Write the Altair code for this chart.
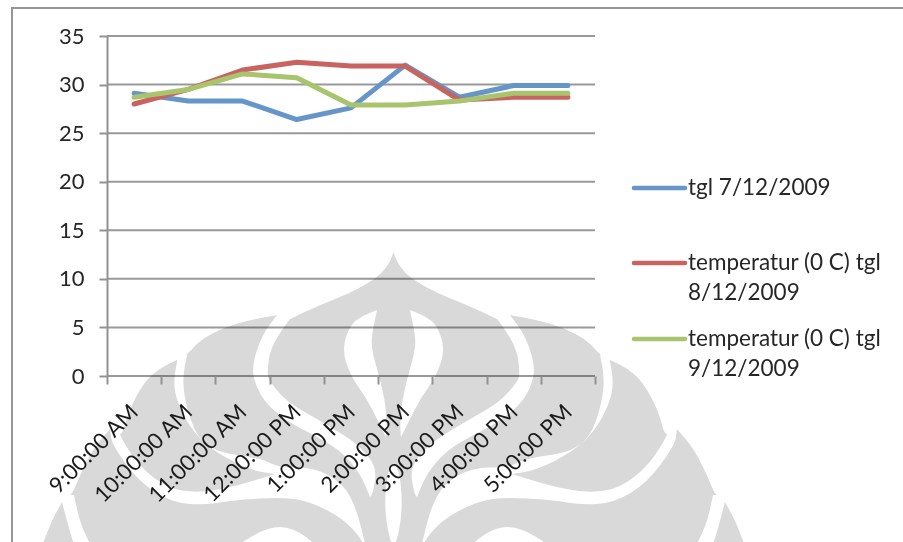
import altair as alt
import pandas as pd

hours = ["9:00:00 AM", "10:00:00 AM", "11:00:00 AM", "12:00:00 PM", "1:00:00 PM",
         "2:00:00 PM", "3:00:00 PM", "4:00:00 PM", "5:00:00 PM"]
series_names = ["tgl 7/12/2009", "temperatur (0 C) tgl 8/12/2009", "temperatur (0 C) tgl 9/12/2009"]
day_7 = [29.1, 28.3, 28.3, 26.4, 27.6, 32.0, 28.7, 29.9, 29.9]
day_8 = [28.0, 29.5, 31.5, 32.3, 31.9, 31.9, 28.4, 28.7, 28.7]
day_9 = [28.7, 29.5, 31.1, 30.7, 27.9, 27.9, 28.3, 29.1, 29.1]
y_ticks = [0, 5, 10, 15, 20, 25, 30, 35]
series_colors = ["#6595c9", "#c9635f", "#a8c46c"]

FONT = "Lato"
TEXT = "#262626"
AXIS_GRAY = "#929292"
EMBLEM_GRAY = "#d9d9d9"
MIRROR = 787

# Left half of the background emblem, in page pixels; the right half is its reflection.
OUTLINE = [(393.5, 252), (393.5, 252), (390, 262), (382, 273), (370, 282), (350, 293), (325, 303), (300, 314),
           (285, 322), (277, 315), (277, 315), (250, 320), (225, 327), (200, 340), (187, 355), (177, 360), (177, 360),
           (160, 368), (144, 382), (128, 412), (122, 438), (110, 429), (110, 429), (93, 449), (80, 475), (72, 495),
           (62, 502), (62, 502), (52, 520), (42, 546), (42, 546), (393.5, 546), (393.5, 546)]
WHITE_SHAPES = [
    # gap under the dome
    [(297, 310), (285, 325), (270, 349), (267, 375), (270, 382), (287, 402), (317, 419), (347, 437), (360, 447),
     (377, 467), (373, 493), (370, 497), (370, 497), (360, 473), (340, 450), (310, 433), (290, 423), (267, 405),
     (255, 385), (252, 365), (262, 335), (277, 315), (277, 315), (285, 308), (285, 308)],
    # long gap running under the second and third petals
    [(179, 352), (179, 352), (173, 382), (178, 405), (193, 432), (215, 452), (250, 470), (275, 474), (275, 474),
     (233, 487), (197, 493), (167, 488), (140, 467), (122, 440), (116, 425), (116, 425), (110, 429), (110, 429),
     (112, 445), (140, 483), (173, 503), (207, 505), (233, 500), (287, 497), (313, 503), (340, 517), (357, 533),
     (366, 548), (366, 548), (357, 510), (343, 483), (313, 467), (280, 468), (260, 458), (220, 453), (200, 440),
     (190, 420), (184, 395), (183, 375), (187, 355), (187, 355)],
    # inner crescent beside the central spindle
    [(377, 310), (377, 310), (362, 316), (350, 325), (342, 349), (350, 375), (367, 399), (380, 425), (386, 437),
     (386, 437), (387, 425), (385, 400), (378, 372), (373, 355), (371, 339), (377, 310), (377, 310)],
    # notch between the two outermost petals
    [(66, 495), (66, 495), (74, 495), (74, 495), (80, 523), (92, 548), (92, 548), (75, 548), (75, 548), (68, 525),
     (62, 502), (62, 502)],
    # small arc along the bottom edge
    [(233, 548), (233, 548), (267, 527), (293, 527), (320, 548), (320, 548)],
]
CENTRE_OVAL = [(393.5, 460), (387, 475), (385, 500), (386, 520), (390, 540), (393.5, 546),
               (397, 540), (401, 520), (402, 500), (400, 475)]


def reflect(points):
    return [(MIRROR - x, y) for x, y in reversed(points)]


def smooth_path(points):
    """Closed path through the midpoints; a repeated point makes a sharp corner."""
    mid = lambda a, b: ((a[0] + b[0]) / 2, (a[1] + b[1]) / 2)
    n = len(points)
    start = mid(points[-1], points[0])
    parts = [f"M{start[0]:.1f},{start[1]:.1f}"]
    for i, p in enumerate(points):
        m = mid(p, points[(i + 1) % n])
        parts.append(f"Q{p[0]:.1f},{p[1]:.1f} {m[0]:.1f},{m[1]:.1f}")
    return "".join(parts) + "Z"


white_path = "".join(smooth_path(s) + smooth_path(reflect(s)) for s in WHITE_SHAPES) + smooth_path(CENTRE_OVAL)
gray_path = smooth_path(OUTLINE + reflect(OUTLINE))

one_row = alt.Data(values=[{"k": 0}])


def emblem_part(path, colour):
    # A custom symbol of size 4 draws its path at one unit per pixel.
    return alt.Chart(one_row).mark_point(
        shape=path, size=4, filled=True, fill=colour, opacity=1, strokeWidth=0
    ).encode(x=alt.value(-107), y=alt.value(-36))


emblem = [emblem_part(gray_path, EMBLEM_GRAY), emblem_part(white_path, "#ffffff")]

frame = [
    alt.Chart(one_row).mark_rule(color="#969696", strokeWidth=2).encode(
        x=alt.value(-95), y=alt.value(-28), y2=alt.value(506)),
    alt.Chart(one_row).mark_rule(color="#969696", strokeWidth=2).encode(
        x=alt.value(-96), x2=alt.value(796), y=alt.value(-28)),
]

y_scale = alt.Scale(domain=[0, 35], nice=False)
y_axis = alt.Axis(values=y_ticks, grid=False, labelFont=FONT, labelFontSize=22, labelColor=TEXT,
                  labelPadding=15, domainColor=AXIS_GRAY, domainWidth=2, tickColor=AXIS_GRAY,
                  tickSize=8, tickWidth=2, zindex=1)
grid = alt.Chart(pd.DataFrame({"v": y_ticks})).mark_rule(
    color="#999999", strokeWidth=2, blend="multiply"
).encode(y=alt.Y("v:Q", scale=y_scale, axis=y_axis, title=None))

long = pd.DataFrame({
    "hour": hours * 3,
    "series": [n for n in series_names for _ in hours],
    "temp": day_7 + day_8 + day_9,
})
lines = alt.Chart(long).mark_line(strokeWidth=5, strokeCap="round", strokeJoin="round").encode(
    x=alt.X("hour:N", sort=hours, title=None,
            scale=alt.Scale(type="band", paddingInner=0, paddingOuter=0),
            axis=alt.Axis(tickBand="extent", labelAngle=-45, labelAlign="right", labelBaseline="middle",
                          labelFont=FONT, labelFontSize=22, labelColor="#1a1a1a", labelPadding=24,
                          labelOverlap=False, labelLimit=300, domain=False, grid=False,
                          tickColor=AXIS_GRAY, tickSize=8, tickWidth=2, zindex=1)),
    y=alt.Y("temp:Q", scale=y_scale, title=None, axis=y_axis),
    color=alt.Color("series:N", sort=series_names, legend=None,
                    scale=alt.Scale(domain=series_names, range=series_colors)),
)

# Key on the right: a swatch and a wrapped caption for each series.
key_rows = [(188, "tgl 7/12/2009"), (263, "temperatur (0 C) tgl|8/12/2009"), (339, "temperatur (0 C) tgl|9/12/2009")]
key = []
for (row_y, caption), colour in zip(key_rows, series_colors):
    key.append(alt.Chart(one_row).mark_rule(color=colour, strokeWidth=4.5, strokeCap="round").encode(
        x=alt.value(527), x2=alt.value(578), y=alt.value(row_y - 36)))
    key.append(alt.Chart(one_row).mark_text(
        text=caption, lineBreak="|", lineHeight=30, align="left", baseline="alphabetic",
        font=FONT, fontSize=22.5, color=TEXT
    ).encode(x=alt.value(581), y=alt.value(row_y - 36 + 7)))

chart = alt.layer(*emblem, *frame, grid, lines, *key).properties(
    width=488, height=340,
    padding={"left": 107, "top": 36, "right": 308, "bottom": 166},
    autosize=alt.AutoSizeParams(type="none"),
    background="#ffffff",
).configure_view(stroke=None)

chart.save("out.html", embed_options={"renderer": "svg", "actions": False})
